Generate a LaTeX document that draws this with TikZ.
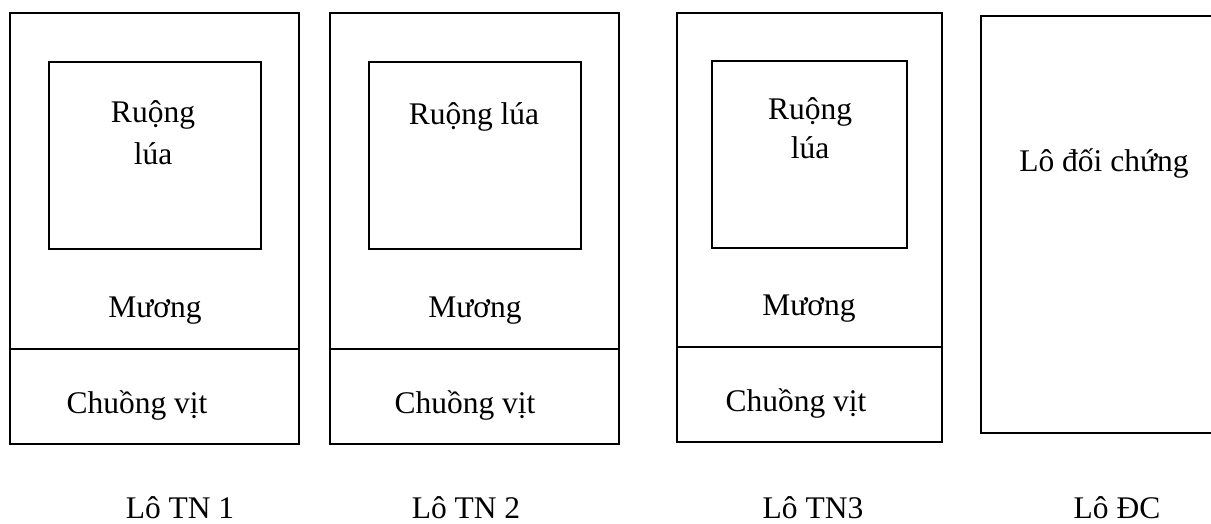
\documentclass[tikz,border=0pt]{standalone}
\usepackage{fontspec}
\setmainfont{Liberation Serif}
\begin{document}
\begin{tikzpicture}[x=1pt,y=-1pt,
  plot/.style={draw=black,line width=1.9pt,inner sep=0pt,fill=none},
  lbl/.style={anchor=base,inner sep=0pt,font=\fontsize{31.5}{38}\selectfont}]
\useasboundingbox (0,0) rectangle (1211,524);
\clip (0,0) rectangle (1211,524);

% Plot TN 1
\node[plot,minimum width=289pt,minimum height=336pt] (m1) at (154.5,181) {};
\node[plot,minimum width=289pt,minimum height=95pt] (c1) at (154.5,396.5) {};
\node[plot,minimum width=212pt,minimum height=187pt] (r1) at (155,155.5) {};
\node[lbl] (r1a) at (153,123) {Ruộng};
\node[lbl] (r1b) at (153,165) {lúa};
\node[lbl] (m1t) at (155,317) {Mương};
\node[lbl] (c1t) at (137,413) {Chuồng vịt};
\node[lbl] (l1) at (180,518) {Lô TN 1};

% Plot TN 2
\node[plot,minimum width=289pt,minimum height=336pt] (m2) at (474.5,181) {};
\node[plot,minimum width=289pt,minimum height=95pt] (c2) at (474.5,396.5) {};
\node[plot,minimum width=212pt,minimum height=187pt] (r2) at (475,155.5) {};
\node[lbl] (r2a) at (474,125) {Ruộng lúa};
\node[lbl] (m2t) at (475,317) {Mương};
\node[lbl] (c2t) at (465,413) {Chuồng vịt};
\node[lbl] (l2) at (466,518) {Lô TN 2};

% Plot TN 3
\node[plot,minimum width=265pt,minimum height=334pt] (m3) at (809.5,180) {};
\node[plot,minimum width=265pt,minimum height=95pt] (c3) at (809.5,394.5) {};
\node[plot,minimum width=195pt,minimum height=187pt] (r3) at (809.5,154.5) {};
\node[lbl] (r3a) at (810,120) {Ruộng};
\node[lbl] (r3b) at (810,159) {lúa};
\node[lbl] (m3t) at (809,315) {Mương};
\node[lbl] (c3t) at (796,411) {Chuồng vịt};
\node[lbl] (l3) at (813,518) {Lô TN3};

% Control plot
\node[plot,minimum width=250pt,minimum height=417pt] (dc) at (1106,224.5) {};
\node[lbl] (dct) at (1104,172) {Lô đối chứng};
\node[lbl] (l4) at (1117,518) {Lô ĐC};
\end{tikzpicture}
\end{document}
